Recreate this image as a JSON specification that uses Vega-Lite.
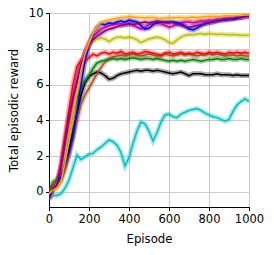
{
"$schema": "https://vega.github.io/schema/vega-lite/v6.json",
"width": 200, "height": 194,
"autosize": {"type": "none"},
"padding": {"left": 49, "top": 13, "right": 25, "bottom": 48},
"config": {
 "font": "DejaVu Sans",
 "view": {"stroke": "black", "strokeWidth": 1},
 "axis": {"domainColor": "black", "tickColor": "black", "labelColor": "black", "titleColor": "black", "gridColor": "#cccccc", "gridWidth": 1, "labelFontSize": 11.5, "titleFontSize": 11.7, "titleFontWeight": "normal", "tickSize": 3.5, "labelPadding": 2.5, "labelOverlap": false, "labelFlush": false}
},
"data": {"values": [
{"s":"c","e":0,"v":-0.3},{"s":"c","e":20,"v":-0.2},{"s":"c","e":40,"v":-0.2},{"s":"c","e":60,"v":-0.1},{"s":"c","e":80,"v":0.2},{"s":"c","e":100,"v":0.65},{"s":"c","e":120,"v":1.35},{"s":"c","e":140,"v":2.05},{"s":"c","e":160,"v":1.8},{"s":"c","e":180,"v":1.95},{"s":"c","e":200,"v":2.1},{"s":"c","e":220,"v":2.15},{"s":"c","e":240,"v":2.35},{"s":"c","e":260,"v":2.5},{"s":"c","e":280,"v":2.7},{"s":"c","e":300,"v":2.9},{"s":"c","e":320,"v":2.8},{"s":"c","e":340,"v":2.6},{"s":"c","e":360,"v":2.2},{"s":"c","e":380,"v":1.45},{"s":"c","e":400,"v":1.9},{"s":"c","e":420,"v":2.7},{"s":"c","e":440,"v":3.4},{"s":"c","e":460,"v":3.9},{"s":"c","e":480,"v":3.8},{"s":"c","e":500,"v":3.4},{"s":"c","e":520,"v":2.85},{"s":"c","e":540,"v":3.3},{"s":"c","e":560,"v":3.9},{"s":"c","e":580,"v":4.3},{"s":"c","e":600,"v":4.35},{"s":"c","e":620,"v":4.2},{"s":"c","e":640,"v":4.15},{"s":"c","e":660,"v":4.35},{"s":"c","e":680,"v":4.45},{"s":"c","e":700,"v":4.55},{"s":"c","e":720,"v":4.6},{"s":"c","e":740,"v":4.65},{"s":"c","e":760,"v":4.55},{"s":"c","e":780,"v":4.4},{"s":"c","e":800,"v":4.3},{"s":"c","e":820,"v":4.2},{"s":"c","e":840,"v":4.15},{"s":"c","e":860,"v":4.05},{"s":"c","e":880,"v":3.95},{"s":"c","e":900,"v":4.05},{"s":"c","e":920,"v":4.5},{"s":"c","e":940,"v":4.85},{"s":"c","e":960,"v":5.05},{"s":"c","e":980,"v":5.2},{"s":"c","e":1000,"v":5.05},
{"s":"k","e":0,"v":-0.1},{"s":"k","e":20,"v":0.3},{"s":"k","e":40,"v":0.45},{"s":"k","e":60,"v":0.8},{"s":"k","e":80,"v":1.5},{"s":"k","e":100,"v":2.4},{"s":"k","e":120,"v":3.4},{"s":"k","e":140,"v":4.4},{"s":"k","e":160,"v":5.4},{"s":"k","e":180,"v":6.1},{"s":"k","e":200,"v":6.45},{"s":"k","e":220,"v":6.6},{"s":"k","e":240,"v":6.7},{"s":"k","e":260,"v":6.65},{"s":"k","e":280,"v":6.5},{"s":"k","e":300,"v":6.3},{"s":"k","e":320,"v":6.35},{"s":"k","e":340,"v":6.5},{"s":"k","e":360,"v":6.6},{"s":"k","e":380,"v":6.65},{"s":"k","e":400,"v":6.7},{"s":"k","e":420,"v":6.75},{"s":"k","e":440,"v":6.8},{"s":"k","e":460,"v":6.75},{"s":"k","e":480,"v":6.8},{"s":"k","e":500,"v":6.8},{"s":"k","e":520,"v":6.75},{"s":"k","e":540,"v":6.8},{"s":"k","e":560,"v":6.75},{"s":"k","e":580,"v":6.7},{"s":"k","e":600,"v":6.65},{"s":"k","e":620,"v":6.6},{"s":"k","e":640,"v":6.65},{"s":"k","e":660,"v":6.7},{"s":"k","e":680,"v":6.6},{"s":"k","e":700,"v":6.5},{"s":"k","e":720,"v":6.6},{"s":"k","e":740,"v":6.6},{"s":"k","e":760,"v":6.6},{"s":"k","e":780,"v":6.55},{"s":"k","e":800,"v":6.55},{"s":"k","e":820,"v":6.55},{"s":"k","e":840,"v":6.6},{"s":"k","e":860,"v":6.55},{"s":"k","e":880,"v":6.55},{"s":"k","e":900,"v":6.55},{"s":"k","e":920,"v":6.5},{"s":"k","e":940,"v":6.55},{"s":"k","e":960,"v":6.5},{"s":"k","e":980,"v":6.5},{"s":"k","e":1000,"v":6.5},
{"s":"br","e":0,"v":-0.3},{"s":"br","e":20,"v":0.1},{"s":"br","e":40,"v":0.3},{"s":"br","e":60,"v":0.6},{"s":"br","e":80,"v":1.2},{"s":"br","e":100,"v":2.0},{"s":"br","e":120,"v":3.0},{"s":"br","e":140,"v":4.0},{"s":"br","e":160,"v":4.9},{"s":"br","e":180,"v":5.4},{"s":"br","e":200,"v":5.8},{"s":"br","e":220,"v":6.2},{"s":"br","e":240,"v":6.6},{"s":"br","e":260,"v":6.95},{"s":"br","e":280,"v":7.25},{"s":"br","e":300,"v":7.45},{"s":"br","e":320,"v":7.55},{"s":"br","e":340,"v":7.6},{"s":"br","e":360,"v":7.65},{"s":"br","e":380,"v":7.6},{"s":"br","e":400,"v":7.65},{"s":"br","e":420,"v":7.7},{"s":"br","e":440,"v":7.65},{"s":"br","e":460,"v":7.6},{"s":"br","e":480,"v":7.65},{"s":"br","e":500,"v":7.7},{"s":"br","e":520,"v":7.65},{"s":"br","e":540,"v":7.6},{"s":"br","e":560,"v":7.65},{"s":"br","e":580,"v":7.7},{"s":"br","e":600,"v":7.65},{"s":"br","e":620,"v":7.6},{"s":"br","e":640,"v":7.65},{"s":"br","e":660,"v":7.7},{"s":"br","e":680,"v":7.65},{"s":"br","e":700,"v":7.7},{"s":"br","e":720,"v":7.65},{"s":"br","e":740,"v":7.6},{"s":"br","e":760,"v":7.65},{"s":"br","e":780,"v":7.65},{"s":"br","e":800,"v":7.7},{"s":"br","e":820,"v":7.65},{"s":"br","e":840,"v":7.7},{"s":"br","e":860,"v":7.65},{"s":"br","e":880,"v":7.6},{"s":"br","e":900,"v":7.65},{"s":"br","e":920,"v":7.65},{"s":"br","e":940,"v":7.6},{"s":"br","e":960,"v":7.65},{"s":"br","e":980,"v":7.6},{"s":"br","e":1000,"v":7.6},
{"s":"g","e":0,"v":0.0},{"s":"g","e":20,"v":0.55},{"s":"g","e":40,"v":0.7},{"s":"g","e":60,"v":1.0},{"s":"g","e":80,"v":1.9},{"s":"g","e":100,"v":3.0},{"s":"g","e":120,"v":4.2},{"s":"g","e":140,"v":5.2},{"s":"g","e":160,"v":5.8},{"s":"g","e":180,"v":6.2},{"s":"g","e":200,"v":6.5},{"s":"g","e":220,"v":6.9},{"s":"g","e":240,"v":7.2},{"s":"g","e":260,"v":7.3},{"s":"g","e":280,"v":7.35},{"s":"g","e":300,"v":7.4},{"s":"g","e":320,"v":7.45},{"s":"g","e":340,"v":7.4},{"s":"g","e":360,"v":7.45},{"s":"g","e":380,"v":7.4},{"s":"g","e":400,"v":7.45},{"s":"g","e":420,"v":7.5},{"s":"g","e":440,"v":7.45},{"s":"g","e":460,"v":7.4},{"s":"g","e":480,"v":7.45},{"s":"g","e":500,"v":7.45},{"s":"g","e":520,"v":7.4},{"s":"g","e":540,"v":7.45},{"s":"g","e":560,"v":7.4},{"s":"g","e":580,"v":7.35},{"s":"g","e":600,"v":7.3},{"s":"g","e":620,"v":7.35},{"s":"g","e":640,"v":7.3},{"s":"g","e":660,"v":7.35},{"s":"g","e":680,"v":7.3},{"s":"g","e":700,"v":7.35},{"s":"g","e":720,"v":7.4},{"s":"g","e":740,"v":7.35},{"s":"g","e":760,"v":7.3},{"s":"g","e":780,"v":7.35},{"s":"g","e":800,"v":7.4},{"s":"g","e":820,"v":7.4},{"s":"g","e":840,"v":7.45},{"s":"g","e":860,"v":7.4},{"s":"g","e":880,"v":7.4},{"s":"g","e":900,"v":7.45},{"s":"g","e":920,"v":7.4},{"s":"g","e":940,"v":7.4},{"s":"g","e":960,"v":7.45},{"s":"g","e":980,"v":7.4},{"s":"g","e":1000,"v":7.4},
{"s":"r","e":0,"v":-0.1},{"s":"r","e":20,"v":0.3},{"s":"r","e":40,"v":0.5},{"s":"r","e":60,"v":1.6},{"s":"r","e":80,"v":3.1},{"s":"r","e":100,"v":4.6},{"s":"r","e":120,"v":6.0},{"s":"r","e":140,"v":7.0},{"s":"r","e":160,"v":7.35},{"s":"r","e":180,"v":7.3},{"s":"r","e":200,"v":7.5},{"s":"r","e":220,"v":7.7},{"s":"r","e":240,"v":7.6},{"s":"r","e":260,"v":7.75},{"s":"r","e":280,"v":7.8},{"s":"r","e":300,"v":7.7},{"s":"r","e":320,"v":7.8},{"s":"r","e":340,"v":7.75},{"s":"r","e":360,"v":7.85},{"s":"r","e":380,"v":7.7},{"s":"r","e":400,"v":7.75},{"s":"r","e":420,"v":7.8},{"s":"r","e":440,"v":7.7},{"s":"r","e":460,"v":7.75},{"s":"r","e":480,"v":7.85},{"s":"r","e":500,"v":7.8},{"s":"r","e":520,"v":7.75},{"s":"r","e":540,"v":7.7},{"s":"r","e":560,"v":7.6},{"s":"r","e":580,"v":7.75},{"s":"r","e":600,"v":7.8},{"s":"r","e":620,"v":7.7},{"s":"r","e":640,"v":7.75},{"s":"r","e":660,"v":7.8},{"s":"r","e":680,"v":7.7},{"s":"r","e":700,"v":7.75},{"s":"r","e":720,"v":7.7},{"s":"r","e":740,"v":7.8},{"s":"r","e":760,"v":7.75},{"s":"r","e":780,"v":7.7},{"s":"r","e":800,"v":7.8},{"s":"r","e":820,"v":7.75},{"s":"r","e":840,"v":7.8},{"s":"r","e":860,"v":7.75},{"s":"r","e":880,"v":7.7},{"s":"r","e":900,"v":7.8},{"s":"r","e":920,"v":7.75},{"s":"r","e":940,"v":7.8},{"s":"r","e":960,"v":7.75},{"s":"r","e":980,"v":7.8},{"s":"r","e":1000,"v":7.75},
{"s":"y","e":0,"v":-0.2},{"s":"y","e":20,"v":0.2},{"s":"y","e":40,"v":0.4},{"s":"y","e":60,"v":1.0},{"s":"y","e":80,"v":2.1},{"s":"y","e":100,"v":3.3},{"s":"y","e":120,"v":4.6},{"s":"y","e":140,"v":5.9},{"s":"y","e":160,"v":7.0},{"s":"y","e":180,"v":7.8},{"s":"y","e":200,"v":8.2},{"s":"y","e":220,"v":8.45},{"s":"y","e":240,"v":8.55},{"s":"y","e":260,"v":8.6},{"s":"y","e":280,"v":8.55},{"s":"y","e":300,"v":8.4},{"s":"y","e":320,"v":8.55},{"s":"y","e":340,"v":8.65},{"s":"y","e":360,"v":8.65},{"s":"y","e":380,"v":8.6},{"s":"y","e":400,"v":8.65},{"s":"y","e":420,"v":8.6},{"s":"y","e":440,"v":8.5},{"s":"y","e":460,"v":8.35},{"s":"y","e":480,"v":8.45},{"s":"y","e":500,"v":8.55},{"s":"y","e":520,"v":8.6},{"s":"y","e":540,"v":8.65},{"s":"y","e":560,"v":8.6},{"s":"y","e":580,"v":8.5},{"s":"y","e":600,"v":8.35},{"s":"y","e":620,"v":8.3},{"s":"y","e":640,"v":8.5},{"s":"y","e":660,"v":8.65},{"s":"y","e":680,"v":8.75},{"s":"y","e":700,"v":8.8},{"s":"y","e":720,"v":8.78},{"s":"y","e":740,"v":8.82},{"s":"y","e":760,"v":8.85},{"s":"y","e":780,"v":8.8},{"s":"y","e":800,"v":8.85},{"s":"y","e":820,"v":8.82},{"s":"y","e":840,"v":8.8},{"s":"y","e":860,"v":8.82},{"s":"y","e":880,"v":8.8},{"s":"y","e":900,"v":8.78},{"s":"y","e":920,"v":8.8},{"s":"y","e":940,"v":8.78},{"s":"y","e":960,"v":8.75},{"s":"y","e":980,"v":8.75},{"s":"y","e":1000,"v":8.75},
{"s":"sa","e":0,"v":-0.2},{"s":"sa","e":20,"v":0.25},{"s":"sa","e":40,"v":0.45},{"s":"sa","e":60,"v":1.1},{"s":"sa","e":80,"v":2.4},{"s":"sa","e":100,"v":3.7},{"s":"sa","e":120,"v":4.9},{"s":"sa","e":140,"v":6.1},{"s":"sa","e":160,"v":7.1},{"s":"sa","e":180,"v":7.9},{"s":"sa","e":200,"v":8.4},{"s":"sa","e":220,"v":8.75},{"s":"sa","e":240,"v":8.95},{"s":"sa","e":260,"v":9.05},{"s":"sa","e":280,"v":9.1},{"s":"sa","e":300,"v":9.2},{"s":"sa","e":320,"v":9.25},{"s":"sa","e":340,"v":9.3},{"s":"sa","e":360,"v":9.3},{"s":"sa","e":380,"v":9.35},{"s":"sa","e":400,"v":9.4},{"s":"sa","e":420,"v":9.35},{"s":"sa","e":440,"v":9.3},{"s":"sa","e":460,"v":9.3},{"s":"sa","e":480,"v":9.25},{"s":"sa","e":500,"v":9.3},{"s":"sa","e":520,"v":9.35},{"s":"sa","e":540,"v":9.3},{"s":"sa","e":560,"v":9.35},{"s":"sa","e":580,"v":9.4},{"s":"sa","e":600,"v":9.35},{"s":"sa","e":620,"v":9.4},{"s":"sa","e":640,"v":9.45},{"s":"sa","e":660,"v":9.5},{"s":"sa","e":680,"v":9.5},{"s":"sa","e":700,"v":9.55},{"s":"sa","e":720,"v":9.5},{"s":"sa","e":740,"v":9.55},{"s":"sa","e":760,"v":9.6},{"s":"sa","e":780,"v":9.6},{"s":"sa","e":800,"v":9.6},{"s":"sa","e":820,"v":9.65},{"s":"sa","e":840,"v":9.6},{"s":"sa","e":860,"v":9.65},{"s":"sa","e":880,"v":9.7},{"s":"sa","e":900,"v":9.65},{"s":"sa","e":920,"v":9.7},{"s":"sa","e":940,"v":9.7},{"s":"sa","e":960,"v":9.7},{"s":"sa","e":980,"v":9.75},{"s":"sa","e":1000,"v":9.7},
{"s":"m","e":0,"v":-0.3},{"s":"m","e":20,"v":0.2},{"s":"m","e":40,"v":0.4},{"s":"m","e":60,"v":1.2},{"s":"m","e":80,"v":2.6},{"s":"m","e":100,"v":3.9},{"s":"m","e":120,"v":5.1},{"s":"m","e":140,"v":6.2},{"s":"m","e":160,"v":7.1},{"s":"m","e":180,"v":7.8},{"s":"m","e":200,"v":8.3},{"s":"m","e":220,"v":8.7},{"s":"m","e":240,"v":8.9},{"s":"m","e":260,"v":9.1},{"s":"m","e":280,"v":9.2},{"s":"m","e":300,"v":9.3},{"s":"m","e":320,"v":9.35},{"s":"m","e":340,"v":9.4},{"s":"m","e":360,"v":9.4},{"s":"m","e":380,"v":9.35},{"s":"m","e":400,"v":9.4},{"s":"m","e":420,"v":9.35},{"s":"m","e":440,"v":9.2},{"s":"m","e":460,"v":9.1},{"s":"m","e":480,"v":9.2},{"s":"m","e":500,"v":9.35},{"s":"m","e":520,"v":9.4},{"s":"m","e":540,"v":9.45},{"s":"m","e":560,"v":9.4},{"s":"m","e":580,"v":9.3},{"s":"m","e":600,"v":9.2},{"s":"m","e":620,"v":9.25},{"s":"m","e":640,"v":9.4},{"s":"m","e":660,"v":9.45},{"s":"m","e":680,"v":9.5},{"s":"m","e":700,"v":9.5},{"s":"m","e":720,"v":9.45},{"s":"m","e":740,"v":9.5},{"s":"m","e":760,"v":9.55},{"s":"m","e":780,"v":9.55},{"s":"m","e":800,"v":9.6},{"s":"m","e":820,"v":9.6},{"s":"m","e":840,"v":9.65},{"s":"m","e":860,"v":9.65},{"s":"m","e":880,"v":9.7},{"s":"m","e":900,"v":9.7},{"s":"m","e":920,"v":9.7},{"s":"m","e":940,"v":9.75},{"s":"m","e":960,"v":9.75},{"s":"m","e":980,"v":9.8},{"s":"m","e":1000,"v":9.8},
{"s":"b","e":0,"v":-0.3},{"s":"b","e":20,"v":0.2},{"s":"b","e":40,"v":0.4},{"s":"b","e":60,"v":0.9},{"s":"b","e":80,"v":1.5},{"s":"b","e":100,"v":2.2},{"s":"b","e":120,"v":3.1},{"s":"b","e":140,"v":4.5},{"s":"b","e":160,"v":6.0},{"s":"b","e":180,"v":7.3},{"s":"b","e":200,"v":8.2},{"s":"b","e":220,"v":8.8},{"s":"b","e":240,"v":9.2},{"s":"b","e":260,"v":9.4},{"s":"b","e":280,"v":9.35},{"s":"b","e":300,"v":9.45},{"s":"b","e":320,"v":9.4},{"s":"b","e":340,"v":9.5},{"s":"b","e":360,"v":9.55},{"s":"b","e":380,"v":9.5},{"s":"b","e":400,"v":9.6},{"s":"b","e":420,"v":9.55},{"s":"b","e":440,"v":9.5},{"s":"b","e":460,"v":9.3},{"s":"b","e":480,"v":9.1},{"s":"b","e":500,"v":9.15},{"s":"b","e":520,"v":9.35},{"s":"b","e":540,"v":9.45},{"s":"b","e":560,"v":9.5},{"s":"b","e":580,"v":9.45},{"s":"b","e":600,"v":9.45},{"s":"b","e":620,"v":9.5},{"s":"b","e":640,"v":9.45},{"s":"b","e":660,"v":9.4},{"s":"b","e":680,"v":9.25},{"s":"b","e":700,"v":9.1},{"s":"b","e":720,"v":9.05},{"s":"b","e":740,"v":9.15},{"s":"b","e":760,"v":9.3},{"s":"b","e":780,"v":9.4},{"s":"b","e":800,"v":9.45},{"s":"b","e":820,"v":9.5},{"s":"b","e":840,"v":9.55},{"s":"b","e":860,"v":9.6},{"s":"b","e":880,"v":9.6},{"s":"b","e":900,"v":9.65},{"s":"b","e":920,"v":9.65},{"s":"b","e":940,"v":9.7},{"s":"b","e":960,"v":9.75},{"s":"b","e":980,"v":9.8},{"s":"b","e":1000,"v":9.8},
{"s":"p","e":0,"v":-0.45},{"s":"p","e":20,"v":0.2},{"s":"p","e":40,"v":0.4},{"s":"p","e":60,"v":1.4},{"s":"p","e":80,"v":2.8},{"s":"p","e":100,"v":4.2},{"s":"p","e":120,"v":5.3},{"s":"p","e":140,"v":6.1},{"s":"p","e":160,"v":7.1},{"s":"p","e":180,"v":7.7},{"s":"p","e":200,"v":8.2},{"s":"p","e":220,"v":8.5},{"s":"p","e":240,"v":8.7},{"s":"p","e":260,"v":8.85},{"s":"p","e":280,"v":9.0},{"s":"p","e":300,"v":9.1},{"s":"p","e":320,"v":9.15},{"s":"p","e":340,"v":9.25},{"s":"p","e":360,"v":9.3},{"s":"p","e":380,"v":9.35},{"s":"p","e":400,"v":9.4},{"s":"p","e":420,"v":9.35},{"s":"p","e":440,"v":9.4},{"s":"p","e":460,"v":9.45},{"s":"p","e":480,"v":9.5},{"s":"p","e":500,"v":9.45},{"s":"p","e":520,"v":9.5},{"s":"p","e":540,"v":9.55},{"s":"p","e":560,"v":9.5},{"s":"p","e":580,"v":9.5},{"s":"p","e":600,"v":9.5},{"s":"p","e":620,"v":9.45},{"s":"p","e":640,"v":9.35},{"s":"p","e":660,"v":9.3},{"s":"p","e":680,"v":9.25},{"s":"p","e":700,"v":9.2},{"s":"p","e":720,"v":9.25},{"s":"p","e":740,"v":9.3},{"s":"p","e":760,"v":9.35},{"s":"p","e":780,"v":9.4},{"s":"p","e":800,"v":9.45},{"s":"p","e":820,"v":9.5},{"s":"p","e":840,"v":9.55},{"s":"p","e":860,"v":9.6},{"s":"p","e":880,"v":9.65},{"s":"p","e":900,"v":9.65},{"s":"p","e":920,"v":9.7},{"s":"p","e":940,"v":9.75},{"s":"p","e":960,"v":9.75},{"s":"p","e":980,"v":9.8},{"s":"p","e":1000,"v":9.8},
{"s":"o","e":0,"v":-0.1},{"s":"o","e":20,"v":0.1},{"s":"o","e":40,"v":0.2},{"s":"o","e":60,"v":0.6},{"s":"o","e":80,"v":1.6},{"s":"o","e":100,"v":2.8},{"s":"o","e":120,"v":4.1},{"s":"o","e":140,"v":5.5},{"s":"o","e":160,"v":6.8},{"s":"o","e":180,"v":7.7},{"s":"o","e":200,"v":8.3},{"s":"o","e":220,"v":8.85},{"s":"o","e":240,"v":9.2},{"s":"o","e":260,"v":9.45},{"s":"o","e":280,"v":9.55},{"s":"o","e":300,"v":9.6},{"s":"o","e":320,"v":9.65},{"s":"o","e":340,"v":9.7},{"s":"o","e":360,"v":9.75},{"s":"o","e":380,"v":9.75},{"s":"o","e":400,"v":9.8},{"s":"o","e":420,"v":9.78},{"s":"o","e":440,"v":9.75},{"s":"o","e":460,"v":9.75},{"s":"o","e":480,"v":9.72},{"s":"o","e":500,"v":9.75},{"s":"o","e":520,"v":9.75},{"s":"o","e":540,"v":9.72},{"s":"o","e":560,"v":9.7},{"s":"o","e":580,"v":9.72},{"s":"o","e":600,"v":9.75},{"s":"o","e":620,"v":9.72},{"s":"o","e":640,"v":9.75},{"s":"o","e":660,"v":9.75},{"s":"o","e":680,"v":9.72},{"s":"o","e":700,"v":9.75},{"s":"o","e":720,"v":9.78},{"s":"o","e":740,"v":9.75},{"s":"o","e":760,"v":9.78},{"s":"o","e":780,"v":9.8},{"s":"o","e":800,"v":9.8},{"s":"o","e":820,"v":9.82},{"s":"o","e":840,"v":9.8},{"s":"o","e":860,"v":9.82},{"s":"o","e":880,"v":9.85},{"s":"o","e":900,"v":9.85},{"s":"o","e":920,"v":9.85},{"s":"o","e":940,"v":9.87},{"s":"o","e":960,"v":9.88},{"s":"o","e":980,"v":9.88},{"s":"o","e":1000,"v":9.9}
]},
"encoding": {
 "x": {"field": "e", "type": "quantitative", "title": "Episode", "scale": {"domain": [0, 1000], "nice": false}, "axis": {"values": [0,200,400,600,800,1000], "format": "d", "grid": true, "titlePadding": 9}},
 "y": {"field": "v", "type": "quantitative", "title": "Total episodic reward", "scale": {"domain": [-0.85, 10], "nice": false, "zero": false}, "axis": {"values": [0,2,4,6,8,10], "format": "d", "grid": true, "titlePadding": 9}},
 "color": {"field": "s", "type": "nominal", "legend": null, "scale": {"domain": ["c","k","br","g","r","y","sa","m","b","p","o"], "range": ["#00bfbf","#000000","#a0522d","#008000","#ff0000","#bfbf00","#fa8072","#bf00bf","#0000ff","#800080","#ffa500"]}}
},
"layer": [
 {"mark": {"type": "line", "strokeWidth": 5, "opacity": 0.35, "clip": true}},
 {"mark": {"type": "line", "strokeWidth": 1.5, "clip": true}}
]
}
